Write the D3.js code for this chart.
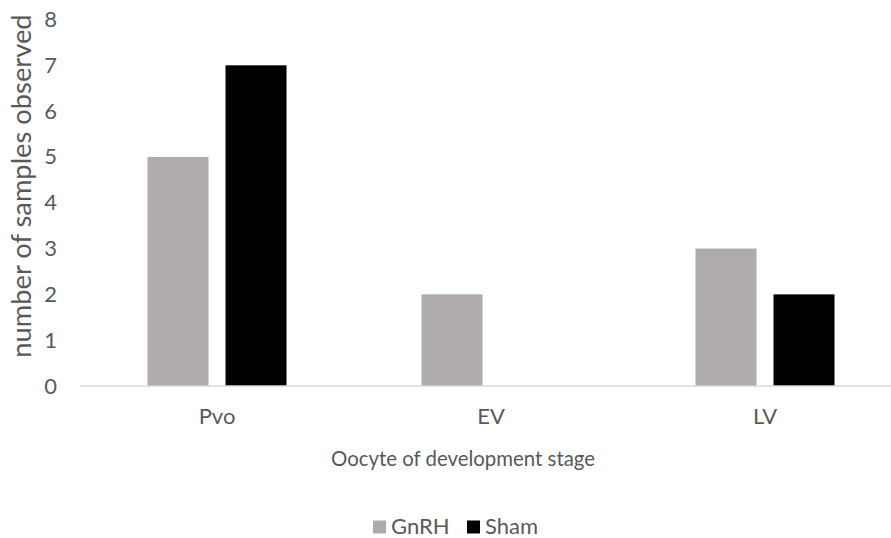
<!DOCTYPE html>
<html>
<head>
<meta charset="utf-8">
<script src="https://cdn.jsdelivr.net/npm/d3@7"></script>
<style>
  html, body { margin: 0; padding: 0; background: #fff; }
  svg { display: block; }
  text { font-family: Lato, "Open Sans", sans-serif; fill: #595959; }
</style>
</head>
<body>
<svg id="chart" width="891" height="538"></svg>
<script>
const categories = ["Pvo", "EV", "LV"];
const seriesNames = ["GnRH", "Sham"];
const gnrhValues = [5, 2, 3];
const shamValues = [7, 0, 2];
const yTicks = [0, 1, 2, 3, 4, 5, 6, 7, 8];
const xTitle = "Oocyte of development stage";
const yTitle = "number of samples observed";
const colors = ["#AFABAB", "#000000"];

const data = categories.map((c, i) => ({ cat: c, values: [gnrhValues[i], shamValues[i]] }));

const svg = d3.select("#chart");
const plot = { left: 80, right: 902, top: 19.5, bottom: 386 };

const x0 = d3.scaleBand().domain(categories).range([plot.left, plot.right])
  .paddingInner(0.4927).paddingOuter(0.24635);
const x1 = d3.scaleBand().domain(seriesNames).range([0, x0.bandwidth()])
  .paddingInner(0.218).paddingOuter(0);
const y = d3.scaleLinear().domain([0, 8]).range([plot.bottom, plot.top]);

// bars
const groups = svg.append("g").selectAll("g").data(data).join("g")
  .attr("transform", d => `translate(${x0(d.cat)},0)`);
groups.selectAll("rect")
  .data(d => d.values.map((v, k) => ({ key: seriesNames[k], v, k })))
  .join("rect")
  .attr("x", d => x1(d.key))
  .attr("y", d => y(d.v))
  .attr("width", x1.bandwidth())
  .attr("height", d => plot.bottom - y(d.v))
  .attr("fill", d => colors[d.k]);

// x axis baseline
const xAxis = d3.axisBottom(x0).tickSize(0).tickPadding(22);
const gx = svg.append("g").attr("transform", `translate(0,${plot.bottom})`).call(xAxis);
gx.select(".domain").attr("stroke", "#D9D9D9").attr("stroke-width", 1.5)
  .attr("d", `M${plot.left},0H${plot.right}`);
gx.selectAll("text").attr("font-size", 22).attr("fill", "#595959")
  .style("font-family", "Lato, sans-serif");

// y axis (labels only)
const yAxis = d3.axisLeft(y).tickValues(yTicks).tickSize(0).tickPadding(0).tickFormat(d3.format("d"));
const gy = svg.append("g").attr("transform", `translate(57,0)`).call(yAxis);
gy.select(".domain").remove();
gy.selectAll("text").attr("font-size", 22).attr("fill", "#595959")
  .style("font-family", "Lato, sans-serif");

// titles
svg.append("text").attr("x", 463).attr("y", 466).attr("text-anchor", "middle")
  .attr("font-size", 20.4).text(xTitle);
svg.append("text").attr("transform", `translate(31,186) rotate(-90)`)
  .attr("text-anchor", "middle").attr("font-size", 27.3).text(yTitle);

// legend
const legend = svg.append("g");
const legendX = [373, 467];
seriesNames.forEach((s, i) => {
  legend.append("rect").attr("x", legendX[i]).attr("y", 520.5).attr("width", 13).attr("height", 13)
    .attr("fill", colors[i]);
  legend.append("text").attr("x", legendX[i] + 18).attr("y", 534).attr("font-size", 22).text(s);
});
</script>
</body>
</html>
